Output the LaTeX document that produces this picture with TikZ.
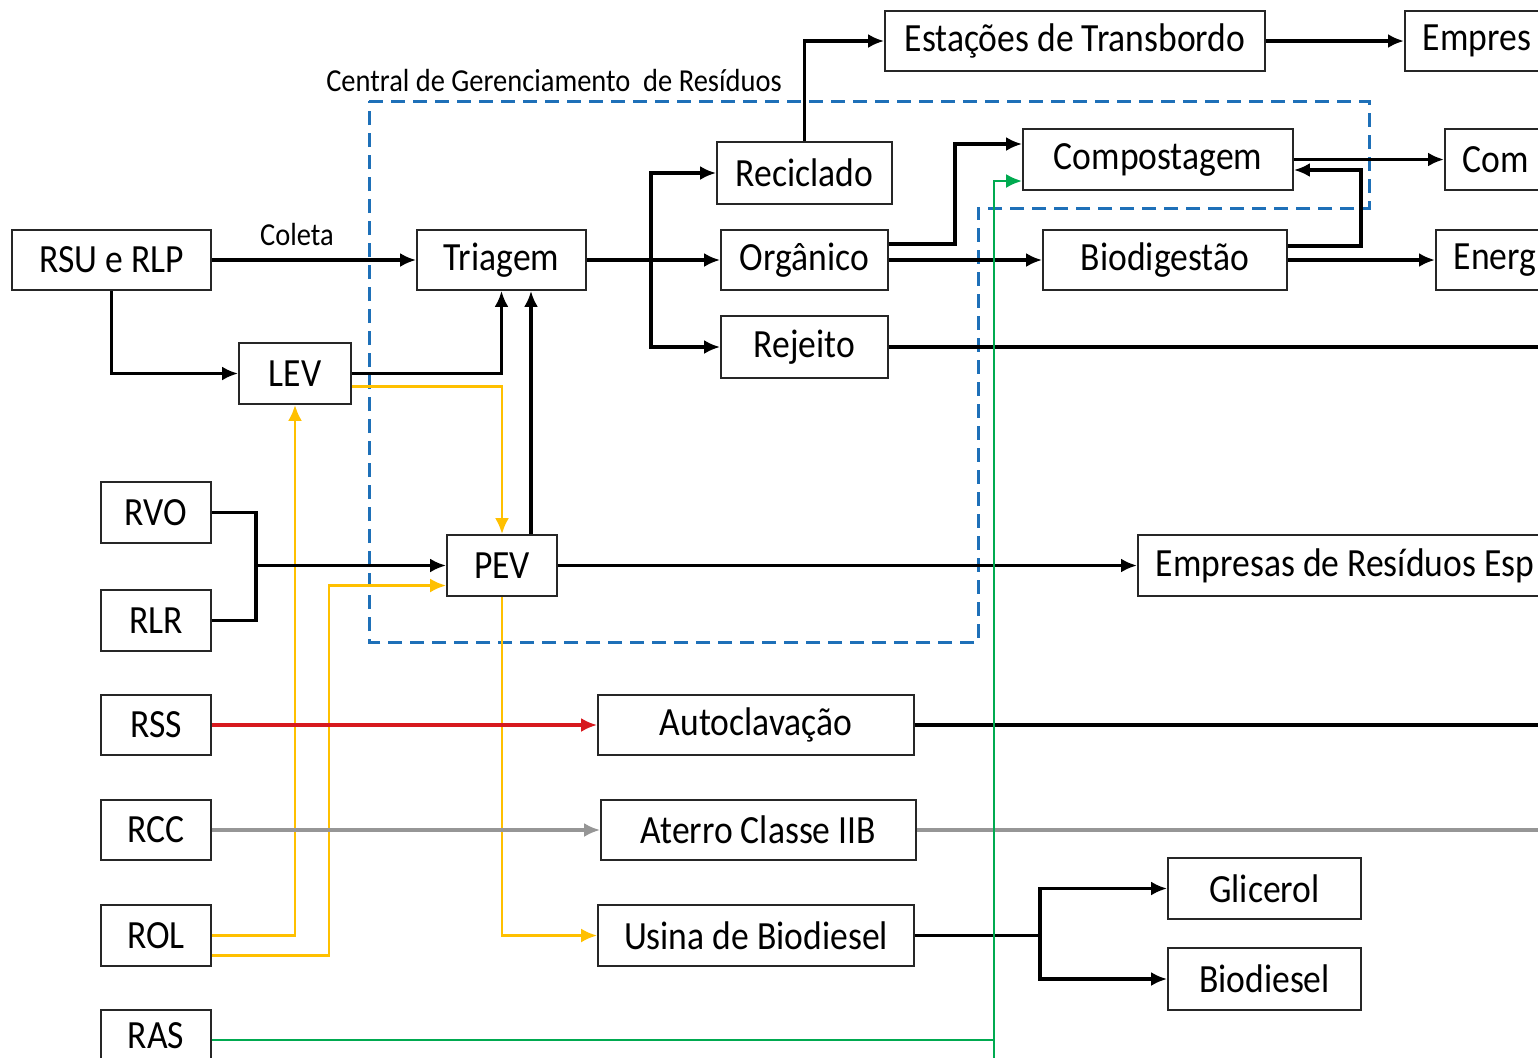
\documentclass[tikz,border=0pt]{standalone}
\usepackage{fontspec}
\setmainfont{Carlito}[FakeStretch=0.89]
\usetikzlibrary{arrows.meta,calc}
\definecolor{cblue}{RGB}{30,112,184}
\definecolor{cyel}{RGB}{255,192,0}
\definecolor{cred}{RGB}{215,25,30}
\definecolor{cgray}{RGB}{150,150,150}
\definecolor{cgreen}{RGB}{0,170,80}
\newcommand{\cuttext}[1]{\makebox[400pt][l]{#1}}
\begin{document}
\begin{tikzpicture}[x=0.5pt,y=-0.5pt,
  box/.style={draw=black!85,line width=0.9pt,fill=white,inner sep=0pt,
    minimum height=30pt,font=\fontsize{20pt}{24pt}\selectfont},
  cut/.style={box,anchor=west,inner xsep=9pt},
  small/.style={font=\fontsize{16pt}{19pt}\selectfont,inner sep=0pt},
  tip/.style={-{Latex[length=8pt,width=7pt]}},
  ln/.style={line width=1.6pt,black},
  arr/.style={ln,tip},
  yln/.style={line width=1.4pt,cyel},
  yarr/.style={yln,tip},
  rarr/.style={line width=1.6pt,cred,tip},
  gln/.style={line width=1.6pt,cgray},
  garr/.style={gln,tip},
  grn/.style={line width=1.4pt,cgreen},
  grnarr/.style={grn,tip},
  bluedash/.style={cblue,line width=1.5pt,dash pattern=on 7pt off 4pt}]
\useasboundingbox (0,0) rectangle (1538,1057);
\clip (0,0) rectangle (1538,1057);
\fill[white] (0,0) rectangle (1538,1057);

% dashed central region
\draw[bluedash] (369,101) -- (1369,101) -- (1369,208) -- (978,208) -- (978,642) -- (369,642) -- cycle;
\node[small] (cgr) at (554,80) {Central de Gerenciamento\ \ de Resíduos};

% boxes
\node[box,minimum width=99.5pt] (rsu) at (111.5,260) {RSU e RLP};
\node[box,minimum width=84.5pt] (tri) at (501.5,260) {Triagem};
\node[box,minimum width=56pt,minimum height=30.5pt] (lev) at (295,373.5) {LEV};
\node[box,minimum width=87.5pt,minimum height=31pt] (rec) at (804.5,173) {Reciclado};
\node[box,minimum width=83.5pt] (org) at (804.5,260) {Orgânico};
\node[box,minimum width=83.5pt,minimum height=31pt] (rej) at (804.5,347) {Rejeito};
\node[box,minimum width=190pt] (est) at (1075,41) {Estações de Transbordo};
\node[box,minimum width=135pt,minimum height=30.5pt] (comp) at (1158,159.5) {Compostagem};
\node[box,minimum width=122pt] (bio) at (1165,260) {Biodigestão};
\node[cut] (emp) at (1404,41) {\cuttext{Empres}};
\node[cut,minimum height=30.5pt] (com) at (1444,159.5) {\cuttext{Com}};
\node[cut] (ene) at (1435,260) {\cuttext{Energ}};
\node[box,minimum width=55pt,minimum height=30.5pt] (rvo) at (156,512.5) {RVO};
\node[box,minimum width=55pt,minimum height=30.5pt] (rlr) at (156,620.5) {RLR};
\node[box,minimum width=55pt,minimum height=30.5pt] (pev) at (502,565.5) {PEV};
\node[cut,minimum height=30.5pt] (esp) at (1137,565.5) {\cuttext{Empresas de Resíduos Esp}};
\node[box,minimum width=55pt] (rss) at (156,725) {RSS};
\node[box,minimum width=158pt] (aut) at (756,725) {Autoclavação};
\node[box,minimum width=55pt] (rcc) at (156,830) {RCC};
\node[box,minimum width=157.5pt] (ate) at (758.5,830) {Aterro Classe IIB};
\node[box,minimum width=55pt,minimum height=30.5pt] (rol) at (156,935.5) {ROL};
\node[box,minimum width=158pt,minimum height=30.5pt] (usi) at (756,935.5) {Usina de Biodiesel};
\node[box,minimum width=96.5pt,minimum height=30.5pt] (gli) at (1264.5,888.5) {Glicerol};
\node[box,minimum width=96.5pt,minimum height=31pt] (bdi) at (1264.5,979) {Biodiesel};
\node[box,minimum width=55pt,minimum height=26pt] (ras) at (156,1036) {RAS};
\node[small] (col) at (297,234) {Coleta};

% helper coordinates
\coordinate (br) at (651,260);
\coordinate (jn) at (256,565.5);
\coordinate (us) at (1040,935.5);
\coordinate (gb) at (994,1080);
\coordinate (edge) at (1560,0);

% yellow connectors
\draw[yarr] ([yshift=-6.5pt]lev.east) -| (pev.north);
\draw[yarr] (pev.south) |- (usi.west);
\draw[yarr] (rol.east) -| (lev.south);
\draw[yarr] ([yshift=-10pt]rol.east) -- ++(58.5pt,0) |- ([yshift=-10pt]pev.west);

% black connectors
\draw[arr] (rsu.east) -- (tri.west);
\draw[arr] (rsu.south) |- (lev.west);
\draw[arr] (lev.east) -| (tri.south);
\draw[arr] ([xshift=14.5pt]pev.north) -- ([xshift=14.5pt]pev.north |- tri.south);
\draw[ln] (tri.east) -- (br);
\draw[arr] (br) |- (rec.west);
\draw[arr] (br) -- (org.west);
\draw[arr] (br) |- (rej.west);
\draw[arr] (rec.north) |- (est.west);
\draw[arr] (est.east) -- (emp.west);
\draw[arr] ([yshift=8pt]org.east) -- ++(33pt,0) |- ([yshift=7.75pt]comp.west);
\draw[arr] (org.east) -- (bio.west);
\draw[arr] (comp.east) -- (com.west);
\draw[arr] ([yshift=7pt]bio.east) -- ++(36.5pt,0) |- ([yshift=-5.25pt]comp.east);
\draw[arr] (bio.east) -- (ene.west);
\draw[ln] (rej.east) -- (rej.east -| edge);
\draw[ln] (rvo.east) -| (jn);
\draw[ln] (rlr.east) -| (jn);
\draw[arr] (jn) -- (pev.west);
\draw[arr] (pev.east) -- (esp.west);
\draw[ln] (aut.east) -- (aut.east -| edge);
\draw[ln] (usi.east) -- (us);
\draw[arr] (us) |- (gli.west);
\draw[arr] (us) |- (bdi.west);

% red and gray
\draw[rarr] (rss.east) -- (aut.west);
\draw[garr] (rcc.east) -- (ate.west);
\draw[gln] (ate.east) -- (ate.east -| edge);

% green
\draw[grnarr] (gb) |- ([yshift=-10.75pt]comp.west);
\draw[grn] ([yshift=-2pt]ras.east) -- ([yshift=-2pt]ras.east -| gb);
\end{tikzpicture}
\end{document}
